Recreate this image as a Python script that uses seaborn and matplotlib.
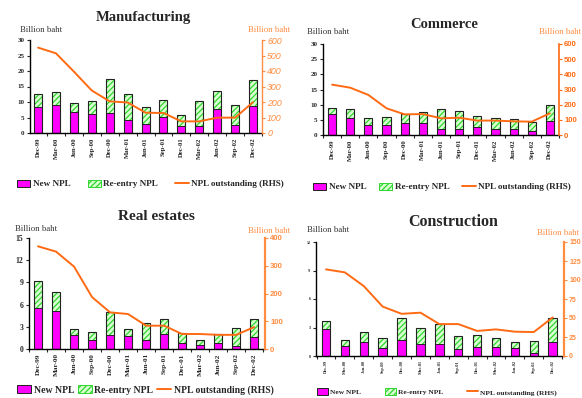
import numpy as np
import matplotlib
matplotlib.use("Agg")
import matplotlib.pyplot as plt
from matplotlib.patches import Patch
from matplotlib.lines import Line2D
from matplotlib.ticker import MultipleLocator, FixedLocator
import seaborn as sns

sns.set_style("white")
plt.rcParams["font.family"] = ["Liberation Serif", "DejaVu Serif"]
plt.rcParams["hatch.linewidth"] = 0.9

quarters = ["Dec-99", "Mar-00", "Jun-00", "Sep-00", "Dec-00", "Mar-01", "Jun-01",
            "Sep-01", "Dec-01", "Mar-02", "Jun-02", "Sep-02", "Dec-02"]

# Manufacturing (billion baht)
manu_new = [8.4, 8.9, 6.8, 6.1, 6.4, 4.1, 2.9, 5.1, 2.4, 2.4, 7.8, 2.7, 8.6]
manu_reentry = [4.1, 4.3, 2.8, 4.2, 11.0, 8.4, 5.5, 5.5, 3.5, 8.0, 5.8, 6.4, 8.4]
manu_outstanding = [551, 514, 396, 274, 204, 197, 131, 129, 75, 75, 99, 99, 199]

# Commerce
comm_new = [6.9, 5.6, 3.2, 3.3, 3.8, 4.0, 1.9, 1.9, 2.7, 1.9, 2.0, 1.4, 4.5]
comm_reentry = [1.9, 3.0, 2.4, 2.5, 3.2, 3.6, 6.7, 5.9, 3.5, 3.7, 3.2, 2.8, 5.4]
comm_outstanding = [332, 312, 264, 176, 136, 138, 110, 114, 95, 95, 90, 88, 143]

# Real estates
real_new = [5.5, 5.2, 1.85, 1.25, 1.85, 1.75, 1.2, 2.0, 0.8, 0.55, 0.8, 0.45, 1.6]
real_reentry = [3.7, 2.5, 0.85, 1.05, 3.15, 1.0, 2.3, 2.05, 1.35, 0.7, 1.2, 2.45, 2.45]
real_outstanding = [370, 351, 297, 187, 132, 126, 84, 84, 54, 54, 51, 51, 79]

# Construction
cons_new = [2.8, 1.05, 1.5, 0.85, 1.65, 1.25, 1.25, 0.75, 1.0, 1.0, 0.8, 0.3, 1.5]
cons_reentry = [0.87, 0.65, 1.0, 1.0, 2.35, 1.72, 2.1, 1.35, 1.2, 0.9, 0.7, 1.3, 2.5]
cons_outstanding = [114, 110, 92, 65, 55.5, 57, 42, 42, 33, 35, 32, 31.5, 50.7]

W, H = 582, 398
fig = plt.figure(figsize=(W / 100, H / 100), dpi=100)

MAGENTA = "#FF00FF"
PALE_GREEN = "#D8FFD0"
HATCH_GREEN = "#2FD62F"
ORANGE = "#FF6A13"
ORANGE_LIGHT = "#FF8C40"
SERIF = ["Liberation Serif", "DejaVu Serif"]


def fx(x):
    return x / W


def fy(y):
    return 1 - y / H


panels = [
    dict(title="Manufacturing", new=manu_new, reentry=manu_reentry, out=manu_outstanding,
         box=(30, 40, 262, 133), xlim=(-0.45, 12.5), ymax=30, ystep=5, rmax=600, rstep=100,
         title_xy=(143, 18), title_size=10.5, lab_l=(20, 30), lab_r=(248, 30),
         tick_size=5, xtick_size=4.8, rtick_style="italic", rtick_weight="normal",
         rtick_size=6.4, rcolor=ORANGE_LIGHT, rspine_w=1.0,
         leg=(17, 184), leg_size=6.6, leg_gap=1.9),
    dict(title="Commerce", new=comm_new, reentry=comm_reentry, out=comm_outstanding,
         box=(323, 44, 559, 135), xlim=(-0.5, 12.5), ymax=30, ystep=5, rmax=600, rstep=100,
         title_xy=(444, 24), title_size=10.5, lab_l=(307, 32), lab_r=(539, 32),
         tick_size=5, xtick_size=4.8, rtick_style="normal", rtick_weight="bold",
         rtick_size=5.6, rcolor=ORANGE, rspine_w=1.2,
         leg=(313, 187), leg_size=6.6, leg_gap=1.4),
    dict(title="Real estates", new=real_new, reentry=real_reentry, out=real_outstanding,
         box=(29, 238, 265, 349), xlim=(-0.5, 12.6), ymax=15, ystep=3, rmax=400, rstep=100,
         title_xy=(156, 217), title_size=11, lab_l=(15, 229), lab_r=(248, 231),
         tick_size=5.5, xtick_size=5.2, rtick_style="normal", rtick_weight="bold",
         rtick_size=5.6, rcolor=ORANGE_LIGHT, rspine_w=1.6,
         leg=(17, 390), leg_size=7.0, leg_gap=0.4),
    dict(title="Construction", new=cons_new, reentry=cons_reentry, out=cons_outstanding,
         box=(316, 242, 564, 356), xlim=(-0.53, 12.6), ymax=12, ystep=3, rmax=150, rstep=25,
         title_xy=(453, 222), title_size=11.5, lab_l=(307, 230), lab_r=(537, 233),
         tick_size=3, xtick_size=3.2, rtick_style="normal", rtick_weight="bold",
         rtick_size=5.0, rcolor=ORANGE_LIGHT, rspine_w=1.6,
         leg=(317, 392), leg_size=5.4, leg_gap=3.2),
]

for p in panels:
    x0, y0, x1, y1 = p["box"]
    ax = fig.add_axes([fx(x0), fy(y1), (x1 - x0) / W, (y1 - y0) / H])
    new = np.array(p["new"])
    total = new + np.array(p["reentry"])

    # Stacked bars: full height hatched green (re-entry), magenta base (new)
    sns.barplot(x=quarters, y=total, ax=ax, color=PALE_GREEN, saturation=1, width=0.45,
                errorbar=None, hatch="//////", edgecolor=HATCH_GREEN, linewidth=0)
    sns.barplot(x=quarters, y=new, ax=ax, color=MAGENTA, saturation=1, width=0.45,
                errorbar=None, edgecolor="#222222", linewidth=0.7)
    sns.barplot(x=quarters, y=total, ax=ax, fill=False, width=0.45, errorbar=None,
                edgecolor="#222222", linewidth=0.8)

    ax.set_xlim(*p["xlim"])
    ax.set_ylim(0, p["ymax"])
    ax.yaxis.set_major_locator(MultipleLocator(p["ystep"]))
    ax.set_xlabel("")
    ax.set_ylabel("")
    for s in ["top", "right"]:
        ax.spines[s].set_visible(False)
    for s in ["left", "bottom"]:
        ax.spines[s].set_color("black")
        ax.spines[s].set_linewidth(1.0)
    ax.tick_params(axis="y", which="major", direction="out", length=2.5, width=0.8,
                   labelsize=p["tick_size"], pad=1.5, left=True)
    for t in ax.get_yticklabels():
        t.set_fontweight("bold")
    ax.set_xticks(range(len(quarters)))
    ax.set_xticklabels(quarters, rotation=90, fontsize=p["xtick_size"], fontweight="bold")
    ax.tick_params(axis="x", which="major", length=0, pad=3)
    ax.xaxis.set_minor_locator(FixedLocator(np.arange(-0.5, len(quarters), 1.0)))
    ax.tick_params(axis="x", which="minor", direction="out", length=2.5, width=0.8, bottom=True)

    # Outstanding NPL on the right-hand scale
    ax2 = ax.twinx()
    sns.lineplot(x=np.arange(len(quarters)), y=p["out"], ax=ax2, color=ORANGE, linewidth=1.4)
    ax2.set_ylim(0, p["rmax"])
    ax2.yaxis.set_major_locator(MultipleLocator(p["rstep"]))
    ax2.set_xlim(*p["xlim"])
    for s in ["top", "left", "bottom"]:
        ax2.spines[s].set_visible(False)
    ax2.spines["right"].set_color(p["rcolor"])
    ax2.spines["right"].set_linewidth(p["rspine_w"])
    ax2.tick_params(axis="y", direction="out", length=2.5, width=0.8, colors=p["rcolor"],
                    labelsize=p["rtick_size"], pad=1.2, right=True)
    for t in ax2.get_yticklabels():
        t.set_fontstyle(p["rtick_style"])
        t.set_fontweight(p["rtick_weight"])
        t.set_family(["Liberation Sans", "DejaVu Sans"])
    ax2.set_ylabel("")

    fig.text(fx(p["title_xy"][0]), fy(p["title_xy"][1]), p["title"], ha="center", va="center",
             fontsize=p["title_size"], fontweight="bold", family=SERIF)
    fig.text(fx(p["lab_l"][0]), fy(p["lab_l"][1]), "Billion baht", ha="left", va="center",
             fontsize=6.3, color="#333333", family=SERIF)
    fig.text(fx(p["lab_r"][0]), fy(p["lab_r"][1]), "Billion baht", ha="left", va="center",
             fontsize=6.3, color=ORANGE_LIGHT, family=SERIF)

    handles = [
        Patch(facecolor=MAGENTA, edgecolor="#222222", linewidth=0.7),
        Patch(facecolor=PALE_GREEN, edgecolor=HATCH_GREEN, hatch="//////", linewidth=0.7),
        Line2D([0], [0], color=ORANGE, linewidth=1.4),
    ]
    fig.legend(handles, ["New NPL", "Re-entry NPL", "NPL outstanding (RHS)"],
               loc="center left", bbox_to_anchor=(fx(p["leg"][0]), fy(p["leg"][1])),
               ncol=3, frameon=False, borderpad=0, borderaxespad=0,
               handlelength=1.45, handleheight=0.9, handletextpad=0.25,
               columnspacing=p["leg_gap"],
               prop=dict(family=SERIF, weight="bold", size=p["leg_size"]))

fig.savefig("out.png", dpi=100)
